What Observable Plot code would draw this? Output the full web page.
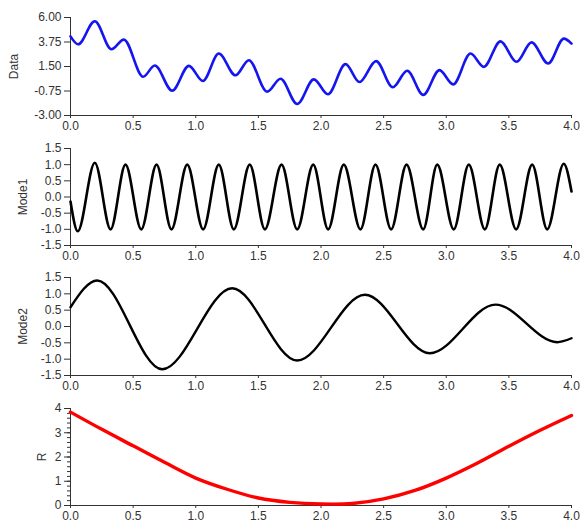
<!DOCTYPE html>
<html>
<head>
<meta charset="utf-8">
<script src="https://cdn.jsdelivr.net/npm/d3@7"></script>
<script src="https://cdn.jsdelivr.net/npm/@observablehq/plot@0.6"></script>
<style>
  body { margin: 0; background: #fff; }
  #chart svg { display: block; }
</style>
</head>
<body>
<div id="chart"></div>
<script>
// ---- x ticks ----
const xTicks = [0, 0.5, 1.0, 1.5, 2.0, 2.5, 3.0, 3.5, 4.0];

// ---- Data (sum signal), turning points ----
const dataT = [0, 0.061, 0.194, 0.327, 0.426, 0.58, 0.673, 0.812, 0.945, 1.057, 1.184, 1.317, 1.424, 1.57, 1.677, 1.81, 1.943, 2.055, 2.196, 2.307, 2.44, 2.573, 2.688, 2.816, 2.946, 3.055, 3.194, 3.3, 3.433, 3.561, 3.681, 3.814, 3.939, 4.0];
const dataV = [4.27, 3.54, 5.66, 3.08, 3.97, 0.56, 1.59, -0.72, 1.56, 0.17, 2.69, 0.69, 2.08, -0.81, 0.38, -1.95, 0.32, -1.05, 1.72, 0.07, 1.99, -0.41, 1.11, -1.11, 1.17, -0.14, 2.69, 1.47, 3.81, 1.93, 3.72, 1.78, 4.06, 3.60];
const dataTicks = [-3, -0.75, 1.5, 3.75, 6];

// ---- Mode1 ----
const mode1T = [0, 0.058, 0.194, 0.320, 0.439, 0.565, 0.687, 0.806, 0.932, 1.059, 1.184, 1.304, 1.431, 1.552, 1.685, 1.810, 1.938, 2.057, 2.182, 2.315, 2.435, 2.560, 2.683, 2.816, 2.928, 3.060, 3.180, 3.308, 3.427, 3.558, 3.686, 3.806, 3.938, 4.0];
const mode1V = [-0.14, -1.06, 1.06, -1.0, 1.0, -1.0, 1.0, -1.0, 1.0, -1.0, 1.0, -1.0, 1.0, -1.0, 1.0, -1.0, 1.0, -1.0, 1.0, -1.0, 1.0, -1.0, 1.0, -1.0, 1.0, -1.0, 1.0, -1.0, 1.0, -1.0, 1.0, -1.0, 1.03, 0.17];

// ---- Mode2 ----
const mode2T = [0, 0.213, 0.732, 1.291, 1.81, 2.35, 2.869, 3.393, 3.886, 4.0];
const mode2V = [0.59, 1.41, -1.31, 1.17, -1.04, 0.97, -0.82, 0.67, -0.48, -0.36];
const modeTicks = [-1.5, -1.0, -0.5, 0.0, 0.5, 1.0, 1.5];

// ---- R (residual) ----
const rT = [0, 0.25, 0.5, 0.75, 1.0, 1.25, 1.5, 1.75, 2.0, 2.25, 2.5, 2.75, 3.0, 3.25, 3.5, 3.75, 4.0];
const rV = [3.85, 3.14, 2.46, 1.78, 1.13, 0.67, 0.31, 0.13, 0.06, 0.08, 0.27, 0.62, 1.13, 1.75, 2.44, 3.10, 3.71];
const rTicks = [0, 1, 2, 3, 4];
const rMinor = [0, 0.2, 0.4, 0.6, 0.8, 1.0, 1.2, 1.4, 1.6, 1.8, 2.0, 2.2, 2.4, 2.6, 2.8, 3.0, 3.2, 3.4, 3.6, 3.8, 4.0];

function panel({t, v, color, sw, domain, ticks, fmt, label, lo, curve, height, mt, mb, minor}) {
  const rows = t.map((x, i) => ({x, y: v[i]}));
  return Plot.plot({
    width: 582, height,
    marginLeft: 70, marginRight: 11, marginTop: mt, marginBottom: mb,
    style: {fontFamily: "'Liberation Sans', Arial, sans-serif", fontSize: "12px", color: "#333", background: "#fff", overflow: "visible"},
    x: {domain: [0, 4]},
    y: {domain},
    marks: [
      minor ? Plot.axisY(minor, {tickSize: 3, tickFormat: () => "", label: null, stroke: "#333"}) : null,
      Plot.axisY(ticks, {tickSize: 6, tickPadding: 3, tickFormat: fmt, label, labelArrow: "none", labelAnchor: "center", labelOffset: lo, stroke: "#333"}),
      Plot.axisX(xTicks, {tickSize: 3, tickPadding: 3, tickFormat: d => d.toFixed(1), label: null, stroke: "#333"}),
      Plot.ruleX([0], {stroke: "#333"}),
      Plot.ruleY([domain[0]], {stroke: "#333"}),
      Plot.line(rows, {x: "x", y: "y", stroke: color, strokeWidth: sw, curve})
    ]
  });
}

const chart = document.getElementById("chart");
chart.append(panel({t: dataT, v: dataV, color: "#1515f0", sw: 2.6, domain: [-3, 6], ticks: dataTicks, fmt: d => d.toFixed(2), label: "Data", lo: 61, curve: "monotone-x", height: 130, mt: 17, mb: 15}));
chart.append(panel({t: mode1T, v: mode1V, color: "#000", sw: 2.6, domain: [-1.5, 1.5], ticks: modeTicks, fmt: d => d.toFixed(1), label: "Mode1", lo: 52, curve: "monotone-x", height: 130, mt: 18, mb: 15}));
chart.append(panel({t: mode2T, v: mode2V, color: "#000", sw: 2.4, domain: [-1.5, 1.5], ticks: modeTicks, fmt: d => d.toFixed(1), label: "Mode2", lo: 52, curve: "monotone-x", height: 130, mt: 17, mb: 15}));
chart.append(panel({t: rT, v: rV, color: "#f00", sw: 3.4, domain: [0, 4], ticks: rTicks, fmt: d => String(d), label: "R", lo: 33, curve: "catmull-rom", height: 133, mt: 18, mb: 18, minor: rMinor}));
</script>
</body>
</html>
